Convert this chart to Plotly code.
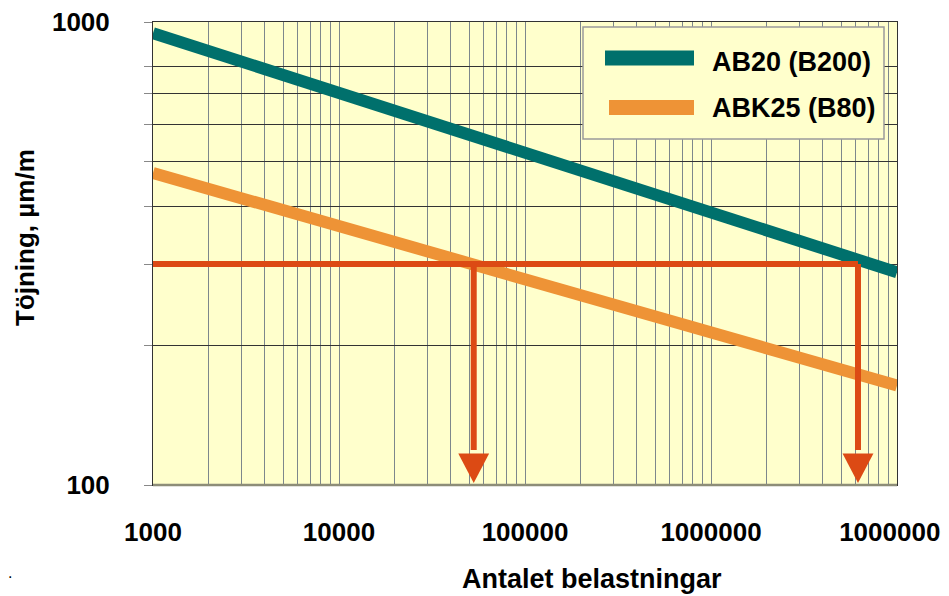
import plotly.graph_objects as go

# ---- data ----
cycles = [1e3, 1e4, 1e5, 1e6, 1e7]
ab20 = [946, 703, 523, 388, 288]

abk_cycles = [1e3, 2e3, 4e3, 1e4, 2e4, 5e4, 1e5, 2e5, 5e5, 1e6, 2e6, 5e6, 1e7]
abk25 = [472, 436, 405, 363, 337, 301, 279, 258, 233, 214, 197, 178, 164]

threshold = 300
arrow_x = [53000, 6170000]
arrow_top = 117
arrow_tip = 101

x_tickvals = [m * 10**e for e in range(3, 7) for m in range(1, 10)] + [1e7]
x_ticktext = [("1000", "10000", "100000", "1000000")[e - 3] if m == 1 else "" for e in range(3, 7) for m in range(1, 10)] + ["10000000"]
y_tickvals = [100, 200, 300, 400, 500, 600, 700, 800, 1000]
y_ticktext = ["100", "", "", "", "", "", "", "", "1000"]

series_names = ["AB20 (B200)", "ABK25 (B80)"]
x_title = "Antalet belastningar"
y_title = "Töjning, µm/m"

TEAL = "#00706c"
ORANGE = "#ee9336"
RED = "#dc4a14"
FONT = "Liberation Sans"

# page offset of the figure inside the browser page (default body margin)
OFF = 8
PL, PT, PW, PH = 153, 22, 744, 463  # plot area in page pixels


def px(xp):
    return (xp - PL) / PW


def py(yp):
    return (PT + PH - yp) / PH


fig = go.Figure()
fig.add_trace(go.Scatter(x=cycles, y=ab20, mode="lines", line=dict(color=TEAL, width=12),
                         name=series_names[0], showlegend=False))
fig.add_trace(go.Scatter(x=abk_cycles, y=abk25, mode="lines", line=dict(color=ORANGE, width=12),
                         name=series_names[1], showlegend=False))
fig.add_trace(go.Scatter(x=[cycles[0], arrow_x[-1]], y=[threshold, threshold], mode="lines",
                         line=dict(color=RED, width=6), showlegend=False, hoverinfo="skip"))
half = 10 ** 0.083
for ax in arrow_x:
    fig.add_trace(go.Scatter(x=[ax, ax], y=[threshold, arrow_top + 2], mode="lines",
                             line=dict(color=RED, width=6), showlegend=False, hoverinfo="skip"))
    fig.add_trace(go.Scatter(x=[ax / half, ax * half, ax, ax / half], y=[arrow_top, arrow_top, arrow_tip, arrow_top],
                             mode="lines", fill="toself", fillcolor=RED, line=dict(color=RED, width=0),
                             showlegend=False, hoverinfo="skip"))

shapes = [
    dict(type="rect", xref="paper", yref="paper", x0=px(583), x1=px(884), y0=py(139), y1=py(27),
         fillcolor="#ffffcc", line=dict(color="#9a9a9a", width=1.5), layer="above"),
    dict(type="line", xref="paper", yref="paper", x0=px(605), x1=px(694), y0=py(58), y1=py(58),
         line=dict(color=TEAL, width=15), layer="above"),
    dict(type="line", xref="paper", yref="paper", x0=px(609), x1=px(694), y0=py(107.5), y1=py(107.5),
         line=dict(color=ORANGE, width=15), layer="above"),
    dict(type="line", xref="paper", yref="paper", x0=0, x1=1, y0=0, y1=0,
         line=dict(color="#8d8d78", width=2.5), layer="above"),
]
big = dict(family=FONT, size=27, color="black", weight="bold")
annotations = [
    dict(xref="paper", yref="paper", x=px(710), y=py(62), text=series_names[0], showarrow=False,
         xanchor="left", yanchor="middle", font=big),
    dict(xref="paper", yref="paper", x=px(710), y=py(108), text=series_names[1], showarrow=False,
         xanchor="left", yanchor="middle", font=big),
    dict(xref="paper", yref="paper", x=px(592), y=py(579), text=x_title, showarrow=False,
         xanchor="center", yanchor="middle", font=big),
    dict(xref="paper", yref="paper", x=px(25), y=py(238), text=y_title, showarrow=False,
         textangle=-90, xanchor="center", yanchor="middle",
         font=dict(family=FONT, size=26, color="black", weight="bold")),
    dict(xref="paper", yref="paper", x=px(6), y=py(572), text=".", showarrow=False,
         xanchor="left", yanchor="middle", font=dict(family=FONT, size=16, color="black")),
]

tickfont = dict(family=FONT, size=26, color="black", weight="bold")
fig.update_layout(
    template="none",
    width=949 - OFF, height=596 - OFF,
    margin=dict(l=PL - OFF, r=949 - PL - PW, t=PT - OFF, b=596 - PT - PH),
    paper_bgcolor="white", plot_bgcolor="#ffffcc",
    showlegend=False,
    shapes=shapes, annotations=annotations,
    xaxis=dict(type="log", range=[3, 7], tickvals=x_tickvals, ticktext=x_ticktext,
               showgrid=True, gridcolor="#7d878c", gridwidth=1, zeroline=False,
               showline=True, linecolor="#333333", linewidth=1, mirror=True,
               ticks="", ticklabelstandoff=24, automargin=False, ticklabeloverflow="allow",
               tickfont=tickfont),
    yaxis=dict(type="log", range=[2, 3], tickvals=y_tickvals, ticktext=y_ticktext,
               showgrid=True, gridcolor="#333333", gridwidth=1, zeroline=False,
               showline=True, linecolor="#333333", linewidth=1, mirror=True,
               ticks="outside", ticklen=8, tickcolor="#888888", ticklabelstandoff=29, automargin=False,
               ticklabeloverflow="allow", tickfont=tickfont),
)

fig.write_html("out.html")
